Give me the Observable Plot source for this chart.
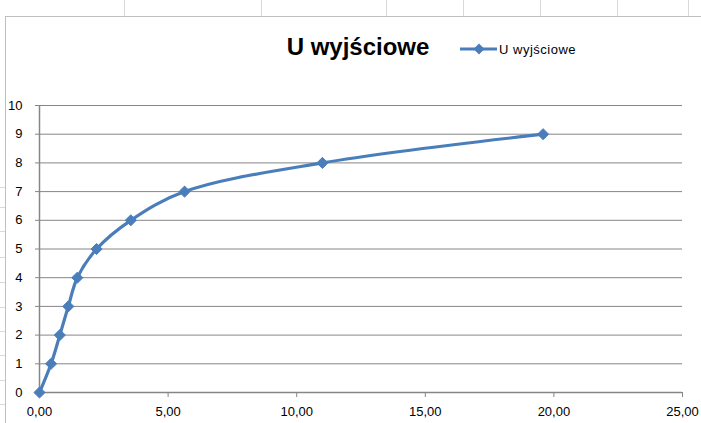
<!DOCTYPE html>
<html>
<head>
<meta charset="utf-8">
<script src="https://cdn.jsdelivr.net/npm/d3@7"></script>
<script src="https://cdn.jsdelivr.net/npm/@observablehq/plot@0.6"></script>
<style>
  body { margin: 0; background: #fff; }
  #wrap { position: relative; width: 701px; height: 423px; overflow: hidden; font-family: "Liberation Sans", Arial, sans-serif; }
  #chart { position: absolute; left: 0; top: 0; }
  .sheet { position: absolute; background: #d9d9d9; }
  #title { position: absolute; left: 264px; top: 33px; width: 188px; text-align: center; font-size: 24px; font-weight: bold; white-space: nowrap; color: #000; }
  #legend { position: absolute; left: 459px; top: 40px; height: 18px; display: flex; align-items: center; white-space: nowrap; font-size: 13px; letter-spacing: 0.5px; color: #000; }
</style>
</head>
<body>
<div id="wrap">
  <div id="chart"></div>
  <div id="title"></div>
  <div id="legend"></div>
</div>
<script>
const titleText = "U wyjściowe";
const seriesName = "U wyjściowe";
const xValues = [0, 0.45, 0.79, 1.12, 1.47, 2.22, 3.55, 5.64, 11.0, 19.58];
const yValues = [0, 1, 2, 3, 4, 5, 6, 7, 8, 9];
const xTicks = [0, 5, 10, 15, 20, 25];
const yTicks = [0, 1, 2, 3, 4, 5, 6, 7, 8, 9, 10];
const lineColor = "#4A7EBB";
const axisColor = "#868686";

const data = xValues.map((x, i) => ({x, y: yValues[i]}));

// spreadsheet background decoration
const wrap = document.getElementById("wrap");
function sheetLine(l, t, w, h, c) {
  const d = document.createElement("div");
  d.className = "sheet";
  d.style.left = l + "px"; d.style.top = t + "px";
  d.style.width = w + "px"; d.style.height = h + "px";
  if (c) d.style.background = c;
  wrap.appendChild(d);
}
[124, 261, 386, 463, 540, 617, 688].forEach(x => sheetLine(x, 0, 1, 16));
[187, 207, 231, 257, 282, 307, 331, 355, 380, 404].forEach(y => sheetLine(0, y, 5, 1));
sheetLine(5, 16, 696, 1, "#bfbfbf");
sheetLine(5, 16, 1, 407, "#bfbfbf");

const chart = Plot.plot({
  width: 701,
  height: 423,
  marginLeft: 39,
  marginRight: 19,
  marginTop: 105,
  marginBottom: 31,
  style: {fontFamily: "'Liberation Sans', Arial, sans-serif", fontSize: "13px", color: "#000", background: "transparent"},
  x: {domain: [0, 25]},
  y: {domain: [0, 10]},
  marks: [
    Plot.gridY(yTicks, {stroke: axisColor, strokeOpacity: 1, strokeWidth: 1}),
    Plot.axisY(yTicks, {tickSize: 4, tickPadding: 13, stroke: axisColor, fill: "#000", label: null, fontSize: 13}),
    Plot.axisX(xTicks, {tickSize: 5, tickPadding: 9, stroke: axisColor, fill: "#000", label: null, fontSize: 13,
      tickFormat: d => d.toFixed(2).replace(".", ",")}),
    Plot.ruleX([0], {stroke: axisColor, strokeWidth: 1.5}),
    Plot.ruleY([0], {stroke: axisColor, strokeWidth: 1.5}),
    Plot.line(data, {x: "x", y: "y", curve: "catmull-rom", stroke: lineColor, strokeWidth: 3.2}),
    Plot.dot(data, {x: "x", y: "y", symbol: "diamond2", r: 5, fill: lineColor, stroke: lineColor, strokeWidth: 1})
  ]
});
document.getElementById("chart").appendChild(chart);

document.getElementById("title").textContent = titleText;
const legend = document.getElementById("legend");
legend.innerHTML = `<svg width="39" height="14" style="margin-right:1px"><line x1="1" y1="7" x2="38" y2="7" stroke="${lineColor}" stroke-width="3"/><path d="M20,1.5 L25.5,7 L20,12.5 L14.5,7 Z" fill="${lineColor}"/></svg><span></span>`;
legend.querySelector("span").textContent = seriesName;
</script>
</body>
</html>
